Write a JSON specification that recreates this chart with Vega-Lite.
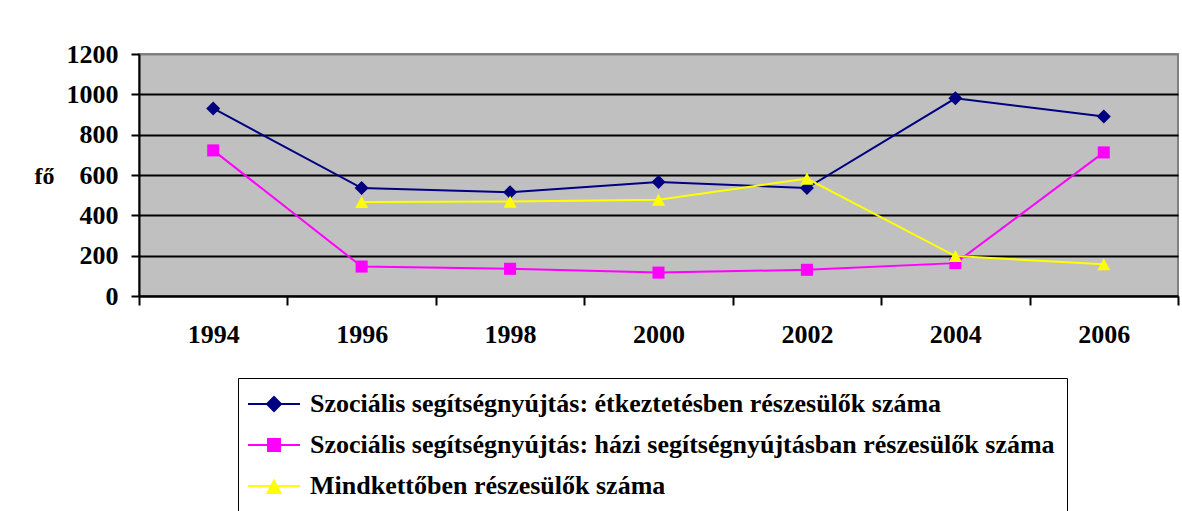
{
  "$schema": "https://vega.github.io/schema/vega-lite/v6.json",
  "autosize": {"type": "none"},
  "width": 1039,
  "height": 242,
  "padding": {"left": 139, "top": 54, "right": 4, "bottom": 215},
  "background": "white",
  "config": {
    "view": {"fill": "#C0C0C0", "stroke": "#808080", "strokeWidth": 2}
  },
  "data": {
    "values": [
      {"ev": "1994", "sorozat": "Szociális segítségnyújtás: étkeztetésben részesülők száma", "fo": 930},
      {"ev": "1996", "sorozat": "Szociális segítségnyújtás: étkeztetésben részesülők száma", "fo": 535},
      {"ev": "1998", "sorozat": "Szociális segítségnyújtás: étkeztetésben részesülők száma", "fo": 515},
      {"ev": "2000", "sorozat": "Szociális segítségnyújtás: étkeztetésben részesülők száma", "fo": 565},
      {"ev": "2002", "sorozat": "Szociális segítségnyújtás: étkeztetésben részesülők száma", "fo": 535},
      {"ev": "2004", "sorozat": "Szociális segítségnyújtás: étkeztetésben részesülők száma", "fo": 980},
      {"ev": "2006", "sorozat": "Szociális segítségnyújtás: étkeztetésben részesülők száma", "fo": 890},
      {"ev": "1994", "sorozat": "Szociális segítségnyújtás: házi segítségnyújtásban részesülők száma", "fo": 722},
      {"ev": "1996", "sorozat": "Szociális segítségnyújtás: házi segítségnyújtásban részesülők száma", "fo": 146},
      {"ev": "1998", "sorozat": "Szociális segítségnyújtás: házi segítségnyújtásban részesülők száma", "fo": 135},
      {"ev": "2000", "sorozat": "Szociális segítségnyújtás: házi segítségnyújtásban részesülők száma", "fo": 116},
      {"ev": "2002", "sorozat": "Szociális segítségnyújtás: házi segítségnyújtásban részesülők száma", "fo": 130},
      {"ev": "2004", "sorozat": "Szociális segítségnyújtás: házi segítségnyújtásban részesülők száma", "fo": 163},
      {"ev": "2006", "sorozat": "Szociális segítségnyújtás: házi segítségnyújtásban részesülők száma", "fo": 712},
      {"ev": "1996", "sorozat": "Mindkettőben részesülők száma", "fo": 466},
      {"ev": "1998", "sorozat": "Mindkettőben részesülők száma", "fo": 468},
      {"ev": "2000", "sorozat": "Mindkettőben részesülők száma", "fo": 477},
      {"ev": "2002", "sorozat": "Mindkettőben részesülők száma", "fo": 582},
      {"ev": "2004", "sorozat": "Mindkettőben részesülők száma", "fo": 198},
      {"ev": "2006", "sorozat": "Mindkettőben részesülők száma", "fo": 157}
    ]
  },
  "encoding": {
    "x": {
      "field": "ev", "type": "ordinal",
      "scale": {"type": "band", "paddingInner": 0, "paddingOuter": 0},
      "axis": {
        "title": null, "labelAngle": 0, "tickBand": "extent",
        "domainColor": "black", "domainWidth": 2,
        "tickColor": "black", "tickWidth": 2, "tickSize": 9,
        "labelFont": "Liberation Serif", "labelFontWeight": "bold", "labelFontSize": 26,
        "labelColor": "black", "labelPadding": 16, "grid": false
      }
    },
    "y": {
      "field": "fo", "type": "quantitative",
      "scale": {"domain": [0, 1200], "nice": false},
      "axis": {
        "title": "fő", "titleAngle": 0, "titleX": -95, "titleY": 122,
        "titleBaseline": "middle", "titleAlign": "center",
        "titleFont": "Liberation Serif", "titleFontWeight": "bold", "titleFontSize": 24, "titleColor": "black",
        "values": [0, 200, 400, 600, 800, 1000, 1200], "format": "d",
        "domainColor": "black", "domainWidth": 2,
        "tickColor": "black", "tickWidth": 2, "tickSize": 8,
        "labelFont": "Liberation Serif", "labelFontWeight": "bold", "labelFontSize": 26,
        "labelColor": "black", "labelPadding": 13,
        "grid": true, "gridWidth": 2,
        "gridColor": {"condition": {"test": "datum.value == 1200", "value": "#808080"}, "value": "black"}
      }
    },
    "color": {
      "field": "sorozat", "type": "nominal",
      "scale": {
        "domain": [
          "Szociális segítségnyújtás: étkeztetésben részesülők száma",
          "Szociális segítségnyújtás: házi segítségnyújtásban részesülők száma",
          "Mindkettőben részesülők száma"
        ],
        "range": ["#000080", "#FF00FF", "#FFFF00"]
      },
      "legend": {
        "title": null, "orient": "none", "legendX": 99, "legendY": 324,
        "strokeColor": "black", "fillColor": "white",
        "padding": 12, "rowPadding": 14,
        "symbolSize": 676, "symbolStrokeWidth": 2, "symbolOffset": 10,
        "labelFont": "Liberation Serif", "labelFontWeight": "bold", "labelFontSize": 26,
        "labelColor": "black", "labelOffset": 22, "labelLimit": 1000,
        "encode": {
          "symbols": {
            "update": {
              "shape": {"signal": "datum.value == 'Mindkettőben részesülők száma' ? 'M-2,0L2,0M0,-0.4L0.5,0.54L-0.5,0.54Z' : (indexof(datum.value, 'házi') >= 0 ? 'M-2,0L2,0M-0.46,-0.46L0.46,-0.46L0.46,0.46L-0.46,0.46Z' : 'M-2,0L2,0M0,-0.54L0.54,0L0,0.54L-0.54,0Z')"},
              "fill": {"signal": "scale('color', datum.value)"},
              "stroke": {"signal": "scale('color', datum.value)"}
            }
          }
        }
      }
    }
  },
  "layer": [
    {"mark": {"type": "line", "strokeWidth": 2}},
    {
      "transform": [{"filter": "indexof(datum.sorozat, 'étkeztetésben') >= 0"}],
      "mark": {"type": "point", "filled": true, "opacity": 1, "size": 196, "shape": "M0,-1L1,0L0,1L-1,0Z"}
    },
    {
      "transform": [{"filter": "indexof(datum.sorozat, 'házi') >= 0"}],
      "mark": {"type": "point", "filled": true, "opacity": 1, "size": 196, "shape": "M-0.86,-0.86L0.86,-0.86L0.86,0.86L-0.86,0.86Z"}
    },
    {
      "transform": [{"filter": "datum.sorozat == 'Mindkettőben részesülők száma'"}],
      "mark": {"type": "point", "filled": true, "opacity": 1, "size": 196, "shape": "M0,-0.86L0.93,0.86L-0.93,0.86Z"}
    }
  ]
}
